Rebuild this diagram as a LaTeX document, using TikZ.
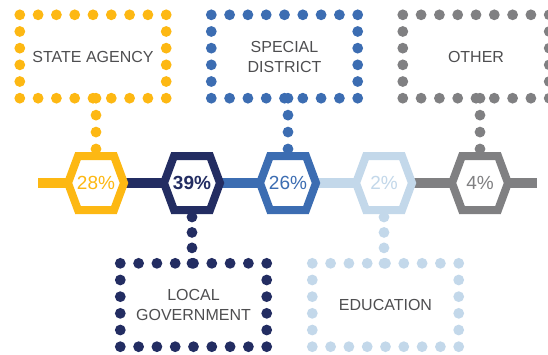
\documentclass[tikz,border=0pt]{standalone}
\usepackage{fontspec}
\setmainfont{Liberation Sans}
\usepackage{tikz}
\usetikzlibrary{positioning}
\usetikzlibrary{calc}

\definecolor{gold}{RGB}{253,184,19}
\definecolor{navy}{RGB}{35,45,98}
\definecolor{midblue}{RGB}{60,109,178}
\definecolor{paleblue}{RGB}{195,216,234}
\definecolor{slate}{RGB}{128,128,130}
\definecolor{labelgray}{RGB}{78,78,80}

\tikzset{
  bar/.style={line width=10pt},
  hexline/.style={line width=8pt, fill=white},
  pct/.style={font=\fontsize{19}{19}\selectfont},
  tag/.style={minimum width=146pt, minimum height=83pt, inner sep=0pt,
    align=center, text=labelgray, font=\fontsize{16}{20}\selectfont},
}

% dotted frame round a tag node
\newcommand{\dotframe}[2]{%
  \foreach \i in {0,...,8} {
    \fill[#2] ($(#1.north west)!\i/8!(#1.north east)$) circle (5.4pt);
    \fill[#2] ($(#1.south west)!\i/8!(#1.south east)$) circle (5.4pt);
  }
  \foreach \i in {1,...,4} {
    \fill[#2] ($(#1.north west)!\i/5!(#1.south west)$) circle (5.4pt);
    \fill[#2] ($(#1.north east)!\i/5!(#1.south east)$) circle (5.4pt);
  }
}
% dotted link between two points
\newcommand{\dotlink}[4]{%
  \foreach \i in {0,...,#3}
    \fill[#4] ($(#1)!\i/#3!(#2)$) circle (5.4pt);
}
% hexagon with its value
\newcommand{\hexstage}[3]{%
  \draw[hexline,draw=#2,shift={(#1)}] (-28,0) -- (-18,-27) -- (18,-27)
    -- (28,0) -- (18,27) -- (-18,27) -- cycle;
  \node[pct,text=#2] (#1-val) at (#1) {#3};
}

\begin{document}
\begin{tikzpicture}[x=1pt,y=-1pt]
\useasboundingbox (0,0) rectangle (548,354);

% boxes
\node[tag] (agency) at (93,56.5) {STATE AGENCY};
\node[tag] (special) at (284.5,56.5) {SPECIAL\\DISTRICT};
\node[tag] (other) at (476,56.5) {OTHER};
\node[tag] (local) at (193.5,305) {LOCAL\\GOVERNMENT};
\node[tag] (edu) at (385.5,305) {EDUCATION};
\dotframe{agency}{gold}
\dotframe{special}{midblue}
\dotframe{other}{slate}
\dotframe{local}{navy}
\dotframe{edu}{paleblue}

% hexagon centres
\coordinate (h1) at (96,183);
\coordinate (h2) at (192,183);
\coordinate (h3) at (288,183);
\coordinate (h4) at (384,183);
\coordinate (h5) at (480,183);
\coordinate (start) at (38,183);
\coordinate (end) at (537,183);

% the bar
\draw[bar,gold] (start) -- (h1);
\draw[bar,navy] (h1) -- (h2);
\draw[bar,midblue] (h2) -- (h3);
\draw[bar,paleblue] (h3) -- (h4);
\draw[bar,slate] (h4) -- (end);

% links
\coordinate (h1-pin) at (96,149);
\coordinate (h2-pin) at (192,217);
\coordinate (h3-pin) at (288,149);
\coordinate (h4-pin) at (384,217);
\coordinate (h5-pin) at (480,149);
\coordinate (agency-pin) at (agency.south -| h1);
\coordinate (local-pin) at (local.north -| h2);
\coordinate (special-pin) at (special.south -| h3);
\coordinate (edu-pin) at (edu.north -| h4);
\coordinate (other-pin) at (other.south -| h5);
\dotlink{agency-pin}{h1-pin}{3}{gold}
\dotlink{h2-pin}{local-pin}{3}{navy}
\dotlink{special-pin}{h3-pin}{3}{midblue}
\dotlink{h4-pin}{edu-pin}{3}{paleblue}
\dotlink{other-pin}{h5-pin}{3}{slate}

\hexstage{h1}{gold}{28\%}
\hexstage{h2}{navy}{\bfseries 39\%}
\hexstage{h3}{midblue}{26\%}
\hexstage{h4}{paleblue}{2\%}
\hexstage{h5}{slate}{4\%}
\end{tikzpicture}
\end{document}
